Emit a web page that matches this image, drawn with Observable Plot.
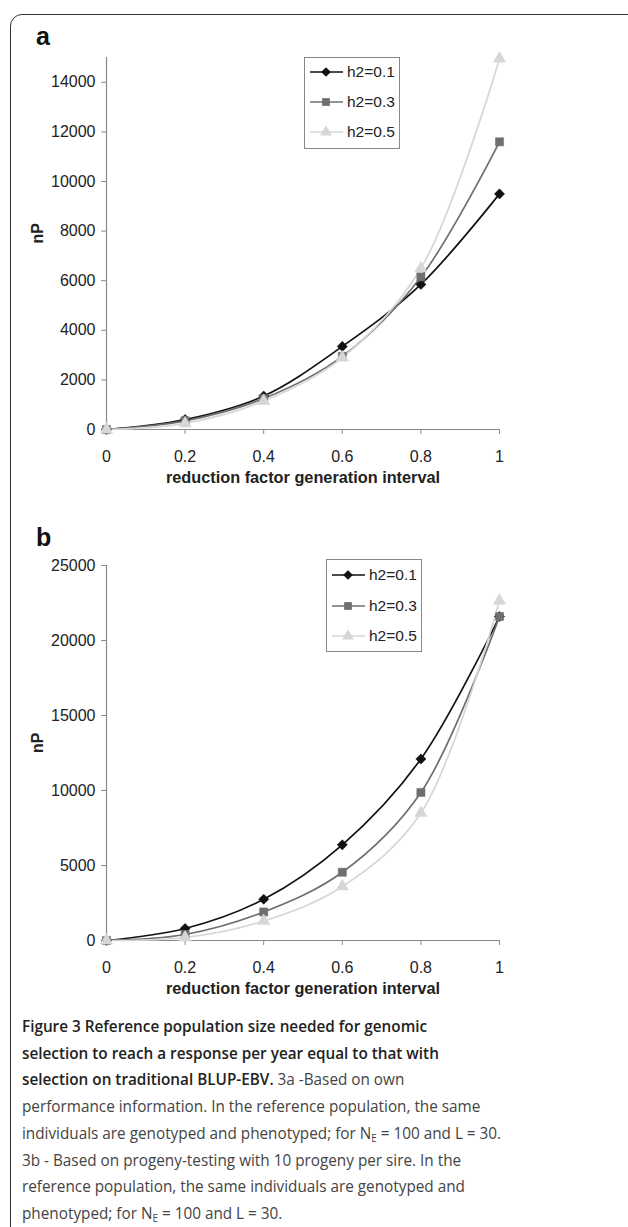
<!DOCTYPE html>
<html>
<head>
<meta charset="utf-8">
<script src="https://cdn.jsdelivr.net/npm/d3@7"></script>
<script src="https://cdn.jsdelivr.net/npm/@observablehq/plot@0.6"></script>
<style>
  html, body { margin: 0; padding: 0; background: #fff; overflow: hidden; }
  #page { position: relative; width: 628px; height: 1227px; overflow: hidden; background: #fff; }
  #frame { position: absolute; left: 10px; top: 14px; width: 800px; height: 1400px; border: 1.5px solid #333; border-radius: 12px; box-sizing: border-box; }
  .panel { position: absolute; left: 0; }
  .plabel { position: absolute; font-family: "Liberation Sans", Arial, sans-serif; font-weight: bold; font-size: 25px; color: #111; }
  .legend { position: absolute; }
  #caption { position: absolute; left: 22px; top: 1013px; font-family: "Open Sans", sans-serif; font-size: 17px; line-height: 26.7px; color: #444; white-space: nowrap; transform: scaleX(0.9); transform-origin: 0 0; }
  #caption b { color: #222; font-weight: 600; }
  #caption sub { font-size: 11px; vertical-align: -3px; line-height: 0; }
</style>
</head>
<body>
<div id="page">
  <div id="frame"></div>
  <div class="plabel" style="left:36px; top:22px;">a</div>
  <div class="plabel" style="left:36px; top:523px;">b</div>
  <div id="plotA" class="panel" style="top:40px;"></div>
  <div id="plotB" class="panel" style="top:540px;"></div>
  <div id="legA" class="legend" style="left:304px; top:57px;"></div>
  <div id="legB" class="legend" style="left:326px; top:559px;"></div>
  <div id="caption">
    <div><b>Figure 3</b> <b>Reference population size needed for genomic</b></div>
    <div><b>selection to reach a response per year equal to that with</b></div>
    <div><b>selection on traditional BLUP-EBV.</b> 3a -Based on own</div>
    <div>performance information. In the reference population, the same</div>
    <div>individuals are genotyped and phenotyped; for N<sub>E</sub> = 100 and L = 30.</div>
    <div>3b - Based on progeny-testing with 10 progeny per sire. In the</div>
    <div>reference population, the same individuals are genotyped and</div>
    <div>phenotyped; for N<sub>E</sub> = 100 and L = 30.</div>
  </div>
</div>
<script>
// ---- data ----
const xValues = [0, 0.2, 0.4, 0.6, 0.8, 1];
const seriesNames = ["h2=0.1", "h2=0.3", "h2=0.5"];
const seriesColors = ["#111111", "#6f6f6f", "#d6d6d6"];
const seriesSymbols = ["diamond2", "square", "triangle"];

// Panel a: own performance
const a_h01 = [0, 400, 1350, 3350, 5850, 9500];
const a_h03 = [0, 350, 1250, 2950, 6150, 11600];
const a_h05 = [0, 250, 1150, 2900, 6500, 14950];

// Panel b: progeny testing
const b_h01 = [0, 800, 2750, 6380, 12100, 21600];
const b_h03 = [0, 400, 1900, 4550, 9870, 21600];
const b_h05 = [0, 200, 1300, 3600, 8500, 22650];

const aTicks = [0, 2000, 4000, 6000, 8000, 10000, 12000, 14000];
const bTicks = [0, 5000, 10000, 15000, 20000, 25000];
const xTicks = [0, 0.2, 0.4, 0.6, 0.8, 1];

const xTitle = "reduction factor generation interval";
const yTitle = "nP";

function toRows(seriesList) {
  const rows = [];
  seriesList.forEach((vals, i) => {
    vals.forEach((v, j) => rows.push({x: xValues[j], y: v, s: seriesNames[i]}));
  });
  return rows;
}

function makePlot(rows, yMax, yTicks, marginTop, plotH) {
  const marginBottom = 64;
  return Plot.plot({
    width: 628,
    height: marginTop + plotH + marginBottom,
    marginLeft: 106,
    marginRight: 129,
    marginTop,
    marginBottom,
    style: {fontFamily: "'Liberation Sans', Arial, sans-serif", fontSize: "16px", color: "#222", background: "transparent"},
    x: {domain: [0, 1]},
    y: {domain: [0, yMax]},
    color: {domain: seriesNames, range: seriesColors},
    symbol: {domain: seriesNames, range: seriesSymbols},
    marks: [
      Plot.ruleX([0], {y1: 0, y2: yMax, stroke: "#8a8a8a", strokeWidth: 1.2}),
      Plot.ruleY([0], {x1: 0, x2: 1, stroke: "#8a8a8a", strokeWidth: 1.2}),
      Plot.axisY({ticks: yTicks, tickSize: 5, tickPadding: 6, stroke: "#8a8a8a", fill: "#222", fontSize: 16, label: null, tickFormat: d => String(d)}),
      Plot.axisX({ticks: xTicks, tickSize: 5, tickPadding: 16, stroke: "#8a8a8a", fill: "#222", fontSize: 16, label: null, tickFormat: d => String(d)}),
      Plot.text([yTitle], {frameAnchor: "left", dx: -69, rotate: -90, fontWeight: "bold", fontSize: 16, fill: "#222"}),
      Plot.text([xTitle], {frameAnchor: "bottom", dy: 53, fontWeight: "bold", fontSize: 16.3, fill: "#222"}),
      Plot.line(rows, {x: "x", y: "y", z: "s", stroke: "s", strokeWidth: 1.7, curve: "catmull-rom"}),
      Plot.dot(rows, {x: "x", y: "y", symbol: "s", fill: "s", stroke: "s", strokeWidth: 0.5, r: 4.6})
    ]
  });
}

document.getElementById("plotA").appendChild(
  makePlot(toRows([a_h01, a_h03, a_h05]), 15000, aTicks, 17, 372));
document.getElementById("plotB").appendChild(
  makePlot(toRows([b_h01, b_h03, b_h05]), 25000, bTicks, 25, 375));

// ---- legends ----
function makeLegend(el, w, h, rowYs) {
  const svg = d3.create("svg").attr("width", w).attr("height", h)
    .style("font-family", "'Liberation Sans', Arial, sans-serif");
  svg.append("rect").attr("x", 0.5).attr("y", 0.5).attr("width", w - 1).attr("height", h - 1)
    .attr("fill", "#fff").attr("stroke", "#888").attr("stroke-width", 1);
  seriesNames.forEach((name, i) => {
    const y = rowYs[i];
    svg.append("line").attr("x1", 6).attr("x2", 39).attr("y1", y).attr("y2", y)
      .attr("stroke", seriesColors[i]).attr("stroke-width", 1.7);
    const sym = {diamond2: d3.symbolDiamond2, square: d3.symbolSquare, triangle: d3.symbolTriangle}[seriesSymbols[i]];
    svg.append("path").attr("d", d3.symbol(sym, 60)()).attr("transform", `translate(22,${y})`)
      .attr("fill", seriesColors[i]);
    svg.append("text").attr("x", 43).attr("y", y).attr("dy", "0.35em").attr("font-size", 15.5)
      .attr("fill", "#222").text(name);
  });
  el.appendChild(svg.node());
}
makeLegend(document.getElementById("legA"), 96, 92, [15, 45, 75]);
makeLegend(document.getElementById("legB"), 96, 93, [16, 47, 77]);
</script>
</body>
</html>
